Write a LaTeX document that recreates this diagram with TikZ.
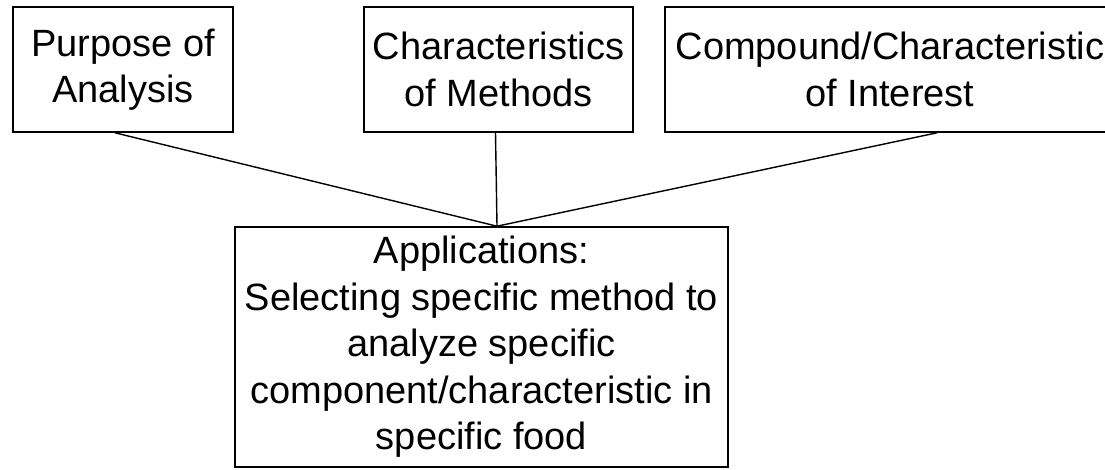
\documentclass[tikz,border=0pt]{standalone}
\usepackage{fontspec}
\setmainfont{Liberation Sans}
\begin{document}
\begin{tikzpicture}[x=1pt,y=-1pt,
  box/.style={draw, line width=1.6pt, rectangle, align=center, inner sep=0pt,
    font=\fontsize{38}{46.5}\selectfont},
  link/.style={line width=1.4pt}]
\useasboundingbox (0,0) rectangle (1105,469);
\node[box, minimum width=220pt, minimum height=125pt] (p) at (123,69.5) {Purpose of\\Analysis};
\node[box, minimum width=269pt, minimum height=125pt] (c) at (498.5,69.5) {Characteristics\\of Methods};
\node[box, minimum width=450pt, minimum height=125pt] (i) at (890,69.5) {Compound/Characteristic\\of Interest};
\node[box, minimum width=493pt, minimum height=240pt] (a) at (481.5,347) {Applications:\\Selecting specific method to\\analyze specific\\component/characteristic in\\specific food};
\coordinate (m) at ([xshift=15.5pt]a.north);
\draw[link] ([xshift=-8pt]p.south) -- (m);
\draw[link] ([xshift=-3pt]c.south) -- (m);
\draw[link] ([xshift=47pt]i.south) -- (m);
\end{tikzpicture}
\end{document}
